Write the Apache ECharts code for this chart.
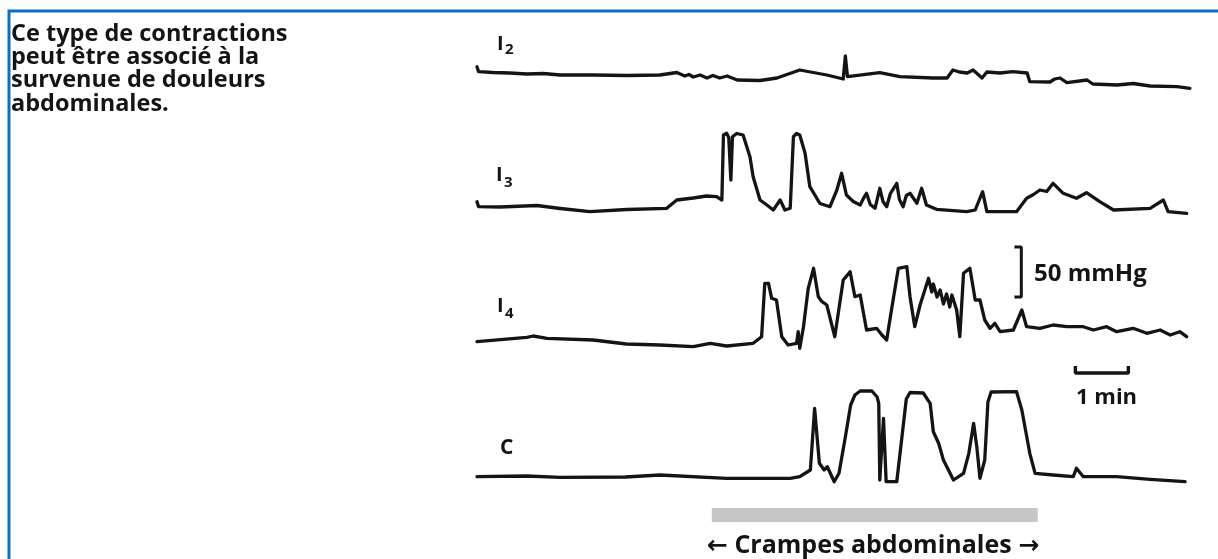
<!DOCTYPE html>
<html>
<head>
<meta charset="utf-8">
<script src="https://cdn.jsdelivr.net/npm/echarts@6/dist/echarts.min.js"></script>
<style>
html,body{margin:0;padding:0;background:#fff;}
#chart{width:1218px;height:559px;}
</style>
</head>
<body>
<div id="chart"></div>
<script>
// time in minutes, pressure in mmHg (relative to each trace's resting level)
const traceNames = ['I2', 'I3', 'I4', 'C'];

const i2Data = [
  [0.00, 6.3], [0.03, 1.3], [0.30, 0.5], [0.62, 0], [0.94, -1], [1.25, -0.5], [1.57, -2],
  [2.19, -2], [2.83, -2.5], [3.45, -2], [3.77, 0.5], [3.92, -3], [4.00, -1.5], [4.08, -4], [4.21, -2],
  [4.34, -5], [4.45, -2.5], [4.58, -5], [4.72, -3], [4.91, -7], [5.34, -7.5], [5.66, -5],
  [6.09, 3], [6.60, -2], [6.91, -6], [6.95, 17], [6.99, -3.7], [7.60, 0.3], [7.98, -3.7],
  [8.60, -5], [8.87, -5], [8.98, 3], [9.10, 1], [9.25, 0], [9.36, 3], [9.53, -5], [9.62, 1],
  [9.87, 0], [10.11, 1.3], [10.38, 0], [10.43, -8.7], [10.81, -9], [10.90, -6], [11.00, -5], [11.13, -9.7],
  [11.51, -7], [11.62, -11], [12.08, -12], [12.38, -10.5], [12.70, -13], [13.21, -13.7], [13.45, -15.3]
];

const i3Data = [
  [0.00, 5.8], [0.03, 0.8], [0.43, 0.5], [1.13, 2], [1.57, -1], [2.13, -4.2], [2.83, -2],
  [3.58, -0.8], [3.77, 7.5], [4.08, 9.5], [4.33, 11.5], [4.52, 10.8], [4.62, 7.5],
  [4.65, 72.5], [4.71, 74.2], [4.75, 70], [4.79, 27.5], [4.82, 70.8], [4.90, 74], [5.02, 72.5],
  [5.15, 50.8], [5.21, 30.8], [5.34, 7.5], [5.47, 2.5], [5.59, -2.5], [5.72, 7.5],
  [5.81, -2.5], [5.91, -0.8], [5.97, 70.8], [6.03, 74], [6.09, 72.5], [6.19, 54.2],
  [6.28, 20.8], [6.47, 4], [6.66, 0.8], [6.79, 17.5], [6.88, 34.2], [6.97, 12.5],
  [7.10, 6], [7.23, 2.5], [7.30, 10], [7.35, 14.2], [7.42, 3], [7.51, -0.8], [7.60, 19.2],
  [7.66, 6], [7.73, 0.8], [7.80, 14], [7.92, 24.2], [7.97, 8], [8.04, 0.8], [8.10, 12],
  [8.17, 14.2], [8.30, 4.2], [8.39, 19.2], [8.48, 2.5], [8.67, -1.8], [9.24, -4.2],
  [9.40, -2.5], [9.54, 15.8], [9.62, -4.2], [10.18, -4.2], [10.37, 9.2], [10.50, 13],
  [10.62, 17.5], [10.75, 16], [10.87, 24.2], [11.06, 14.2], [11.31, 9.2], [11.50, 14.8],
  [11.75, 5.8], [12.01, -2.5], [12.70, -0.8], [12.95, 7.5], [13.04, -4.2], [13.39, -5.8]
];

const i4Data = [
  [0.00, 0.3], [0.94, 4.7], [1.06, 6], [1.32, 3.7], [2.19, 2], [2.82, -2], [3.45, -3],
  [4.08, -4.7], [4.40, -1.3], [4.71, -4], [5.21, -1.3], [5.37, 5.3], [5.43, 58.7],
  [5.50, 58.7], [5.56, 43.7], [5.65, 42], [5.75, 5.3], [5.87, -3], [6.03, -1.3],
  [6.06, 10.3], [6.09, -6.3], [6.16, 15.3], [6.25, 53.7], [6.35, 73.7], [6.44, 45.3],
  [6.51, 40.3], [6.60, 37], [6.75, 5.3], [6.91, 62], [7.04, 70.3], [7.13, 45.3],
  [7.23, 47], [7.35, 12], [7.54, 13.7], [7.64, 7], [7.73, 2], [7.82, 32], [7.95, 73.7],
  [8.11, 75.3], [8.17, 45.3], [8.26, 15.3], [8.36, 37], [8.52, 63.7], [8.58, 50],
  [8.61, 58], [8.68, 45], [8.74, 52], [8.80, 38], [8.86, 48], [8.92, 35], [8.96, 47],
  [9.05, 32], [9.11, 5.3], [9.18, 68.7], [9.30, 73.7], [9.40, 42], [9.49, 42],
  [9.58, 22], [9.68, 13.7], [9.77, 18.7], [9.87, 10.3], [10.12, 12], [10.28, 32],
  [10.37, 15.3], [10.62, 13.7], [10.87, 17], [11.13, 15.3], [11.44, 15.3], [11.63, 12],
  [11.88, 15.3], [12.07, 10.3], [12.38, 13.7], [12.64, 8.7], [12.89, 12], [13.08, 7],
  [13.26, 10.3], [13.39, 5.3]
];

const cData = [
  [0.00, 0.3], [0.94, 1], [1.57, -0.3], [2.80, 0], [3.45, 2], [4.71, -1.3], [5.91, -1.3],
  [6.09, 0.3], [6.29, 7], [6.37, 68.7], [6.46, 13.7], [6.55, 7], [6.61, 10.3], [6.74, -4.7],
  [6.83, 3.7], [6.95, 40], [7.05, 72], [7.13, 82], [7.23, 86], [7.45, 86], [7.55, 80], [7.58, 73.7], [7.60, -3],
  [7.67, 58.7], [7.72, -4.7], [7.92, -4.7], [8.04, 50.3], [8.10, 78], [8.17, 84.5], [8.42, 84],
  [8.55, 73.7], [8.61, 45.3], [8.71, 33.7], [8.80, 17], [8.99, -3], [9.18, 3.7],
  [9.28, 23.7], [9.37, 53.7], [9.43, 30.3], [9.49, -1.3], [9.58, 17], [9.64, 75], [9.70, 85],
  [10.18, 85.3], [10.28, 67], [10.43, 23.7], [10.53, 3.7], [10.87, 2], [11.25, 0.3],
  [11.31, 8.7], [11.44, 0.3], [12.07, 0.3], [12.70, -2.3], [13.36, -4.7]
];

const crampPeriod = [4.43, 10.58];   // minutes
const pressureScale = 50;            // mmHg
const timeScale = 1;                 // min

const introText = 'Ce type de contractions\npeut être associé à la\nsurvenue de douleurs\nabdominales.';
const crampLabel = '← Crampes abdominales →';

// ---------- layout ----------
const X_LEFT = 477, X_WIDTH = 715.5, T_MAX = 13.5;
const grids = [
  { top: 28,    height: 70,  ymin: -25, ymax: 45 },
  { top: 112.5, height: 110, ymin: -15, ymax: 95 },
  { top: 247,   height: 110, ymin: -15, ymax: 95 },
  { top: 377,   height: 115, ymin: -15, ymax: 100 },
  { top: 508,   height: 14,  ymin: -1,  ymax: 1 }
];
const traces = [i2Data, i3Data, i4Data, cData];

const ink = '#141414';
const font = '"Open Sans", "DejaVu Sans", sans-serif';

const option = {
  animation: false,
  backgroundColor: '#fff',
  grid: grids.map(g => ({ left: X_LEFT, width: X_WIDTH, top: g.top, height: g.height, containLabel: false })),
  xAxis: grids.map((g, i) => ({ type: 'value', gridIndex: i, min: 0, max: T_MAX, show: false })),
  yAxis: grids.map((g, i) => ({ type: 'value', gridIndex: i, min: g.ymin, max: g.ymax, show: false })),
  series: [
    ...traces.map((d, i) => ({
      name: traceNames[i], type: 'line', xAxisIndex: i, yAxisIndex: i, data: d,
      symbol: 'none', silent: true, clip: false,
      lineStyle: { color: ink, width: 3.3, join: 'round', cap: 'round' }
    })),
    { // cramp period bar
      type: 'line', xAxisIndex: 4, yAxisIndex: 4, symbol: 'none', silent: true,
      data: [[crampPeriod[0], 0], [crampPeriod[1], 0]],
      lineStyle: { color: '#c6c6c6', width: 14, cap: 'butt' }
    },
    { // 50 mmHg bracket (in I4 axes)
      type: 'line', xAxisIndex: 2, yAxisIndex: 2, symbol: 'none', silent: true, clip: false,
      data: [[10.14, 45], [10.27, 45], [10.27, 45 + pressureScale], [10.14, 45 + pressureScale]],
      lineStyle: { color: ink, width: 3 }
    },
    { // 1 min bar (in C axes)
      type: 'line', xAxisIndex: 3, yAxisIndex: 3, symbol: 'none', silent: true, clip: false,
      data: [[11.29, 111], [11.29, 104], [11.29 + timeScale, 104], [11.29 + timeScale, 111]],
      lineStyle: { color: ink, width: 3.4 }
    }
  ],
  graphic: [
    { type: 'rect', shape: { x: 9, y: 11, width: 1400, height: 1000 }, style: { fill: 'none', stroke: '#0b6fc6', lineWidth: 3 }, silent: true },
    { type: 'text', left: 11, top: 22, style: { text: introText, font: 'bold 23.5px ' + font, fill: ink, lineHeight: 23.3 } },
    // trace labels
    { type: 'text', left: 497, top: 34, style: { text: 'I', font: 'bold 20px ' + font, fill: ink } },
    { type: 'text', left: 505, top: 42, style: { text: '2', font: 'bold 15px ' + font, fill: ink } },
    { type: 'text', left: 496, top: 165, style: { text: 'I', font: 'bold 20px ' + font, fill: ink } },
    { type: 'text', left: 504, top: 175, style: { text: '3', font: 'bold 15px ' + font, fill: ink } },
    { type: 'text', left: 497, top: 296, style: { text: 'I', font: 'bold 20px ' + font, fill: ink } },
    { type: 'text', left: 505, top: 306, style: { text: '4', font: 'bold 15px ' + font, fill: ink } },
    { type: 'text', left: 500, top: 438, style: { text: 'C', font: 'bold 21px ' + font, fill: ink } },
    // scale labels
    { type: 'text', left: 1034, top: 262, style: { text: pressureScale + ' mmHg', font: 'bold 24px ' + font, fill: ink } },
    { type: 'text', left: 1076, top: 387, style: { text: timeScale + ' min', font: 'bold 22px ' + font, fill: ink } },
    { type: 'text', left: 707, top: 533, style: { text: crampLabel, font: 'bold 25px ' + font, fill: ink } }
  ]
};

const chart = echarts.init(document.getElementById('chart'), null, { renderer: 'canvas' });
chart.setOption(option);
</script>
</body>
</html>
